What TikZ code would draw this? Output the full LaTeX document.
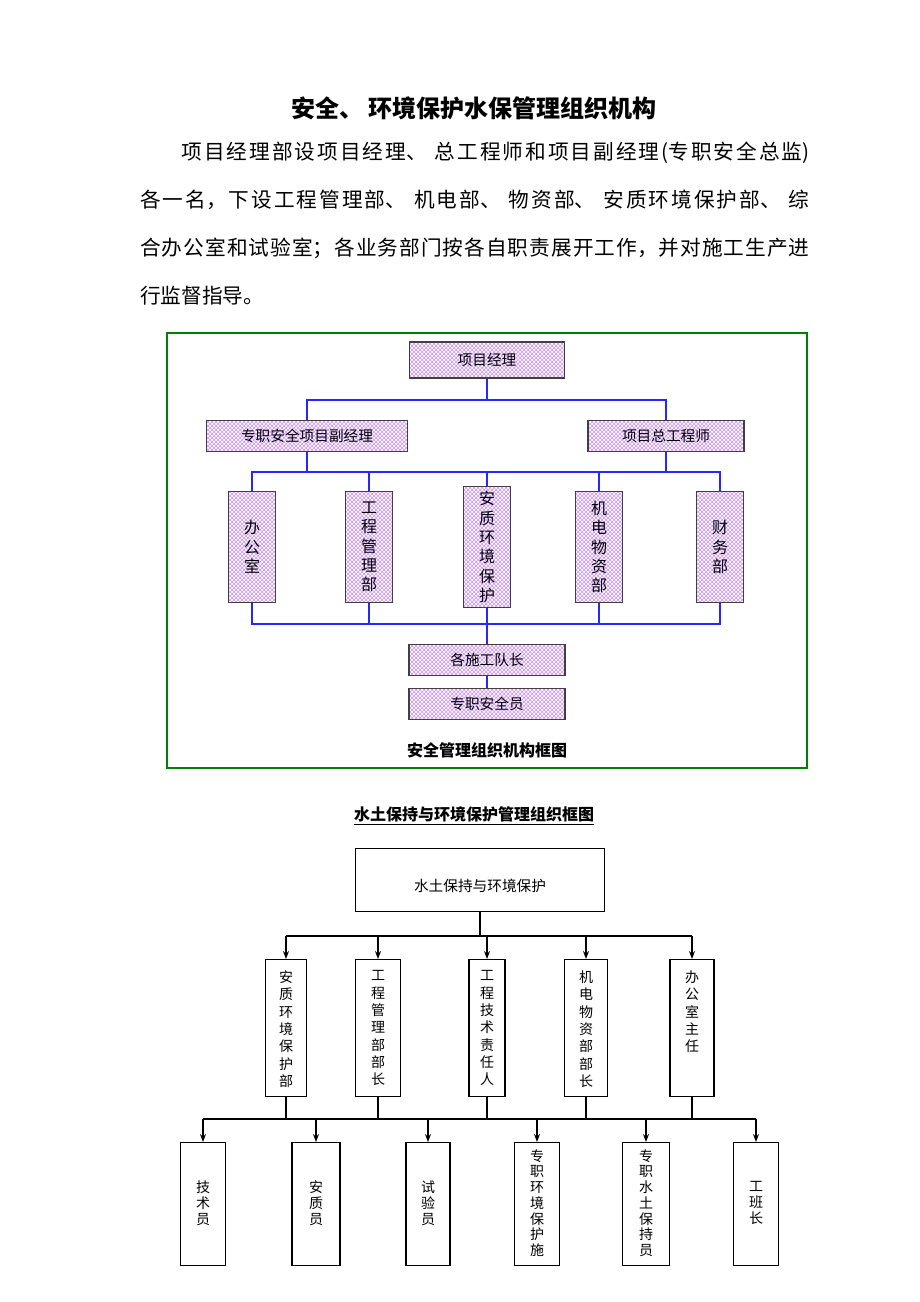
\documentclass[tikz,border=0pt]{standalone}
\usepackage{fontspec}
\setmainfont{Noto Sans CJK SC}
\usetikzlibrary{patterns,arrows.meta}
\XeTeXlinebreaklocale "zh"
\XeTeXlinebreakskip=0pt plus 1pt
\colorlet{hatch}{blue!45!magenta!45}
\tikzset{
  hbox/.style={draw=black!75,thick,pattern=crosshatch,pattern color=hatch,font=\fontsize{11}{12}\selectfont},
  vbox/.style={hbox,align=center,font=\fontsize{12}{14.5}\selectfont},
  wbox/.style={draw,thick,align=center,font=\fontsize{11}{14}\selectfont},
  vtext/.style={align=center,text width=12pt,font=\fontsize{10.5}{13}\selectfont},
  bl/.style={draw=blue!85,thick},
  ar/.style={thick,-{Stealth[length=6pt]}},
}
\begin{document}
\begin{tikzpicture}[x=0.75pt,y=-0.75pt]
\useasboundingbox (0,0) rectangle (920,1302);
% heading and text
\node (head) at (474,108) {\fontsize{18}{20}\selectfont\bfseries 安全、 环境保护水保管理组织机构};
\node (para) [anchor=north west,inner sep=0pt,text width=502pt,align=justify,
  font=\fontsize{15.5}{36}\selectfont] at (140,142)
  {\hspace*{2em}项目经理部设项目经理、 总工程师和项目副经理(专职安全总监)\linebreak
   各一名，下设工程管理部、 机电部、 物资部、 安质环境保护部、 综\linebreak
   合办公室和试验室；各业务部门按各自职责展开工作，并对施工生产进\linebreak
   行监督指导。};
% first chart
\draw[green!50!black,line width=1.5pt] (167,333) rectangle (807,768);
\node (pm) [hbox,minimum width=116pt,minimum height=27pt] at (487,360) {项目经理};
\node (vpm) [hbox,minimum width=151pt,minimum height=23pt] at (307,436) {专职安全项目副经理};
\node (ce) [hbox,minimum width=117pt,minimum height=23pt] at (666,436) {项目总工程师};
\foreach \n/\x/\t in {b1/252/办\\公\\室, b2/369/工\\程\\管\\理\\部, b3/487/安\\质\\环\\境\\保\\护,
                      b4/599/机\\电\\物\\资\\部, b5/720/财\\务\\部}
  \node (\n) [vbox,minimum width=35pt,minimum height=83pt,text width=14pt] at (\x,547) {\t};
\node (team) [hbox,minimum width=117pt,minimum height=23pt] at (487,660) {各施工队长};
\node (safe) [hbox,minimum width=117pt,minimum height=23pt] at (487,704) {专职安全员};
\node (cap1) at (487,750) {\fontsize{12}{14}\selectfont\bfseries 安全管理组织机构框图};
\draw[bl] (pm.south) -- (487,400) -| (vpm.north);
\draw[bl] (487,400) -| (ce.north);
\draw[bl] (vpm.south) -- (307,472);
\draw[bl] (ce.south) -- (666,472);
\draw[bl] (b1.north) |- (b5.north |- 0,472) -- (b5.north);
\foreach \n in {b2,b3,b4} \draw[bl] (\n.north) -- (\n.north |- 0,472);
\draw[bl] (b1.south) |- (b5.south |- 0,624) -- (b5.south);
\foreach \n in {b2,b4} \draw[bl] (\n.south) -- (\n.south |- 0,624);
\draw[bl] (b3.south) -- (team.north);
\draw[bl] (team.south) -- (safe.north);
% second chart
\node (cap2) at (474,816) {\fontsize{12}{14}\selectfont\bfseries\underline{水土保持与环境保护管理组织框图}};
\node (top) [wbox,minimum width=187pt,minimum height=47pt] at (480,880) {};
\node (topt) [font=\fontsize{11}{14}\selectfont] at (480,886) {水土保持与环境保护};
\foreach \n/\x/\w/\t in {m1/286/31/安\\质\\环\\境\\保\\护\\部, m2/378/34/工\\程\\管\\理\\部\\部\\长,
                         m3/487/27/工\\程\\技\\术\\责\\任\\人, m4/586/32/机\\电\\物\\资\\部\\部\\长,
                         m5/692/33/办\\公\\室\\主\\任}
{
  \node (\n) [wbox,anchor=north,minimum width=\w pt,minimum height=103pt] at (\x,959) {};
  \node (\n t) [vtext,anchor=north] at (\x,966) {\t};
}
\foreach \n/\x/\w/\t in {s1/203/34/技\\术\\员, s2/316/36/安\\质\\员, s3/428/33/试\\验\\员,
                         s4/537/34/专\\职\\环\\境\\保\\护\\施, s5/646/35/专\\职\\水\\土\\保\\持\\员, s6/756/34/工\\班\\长}
{
  \node (\n) [wbox,anchor=north,minimum width=\w pt,minimum height=92pt] at (\x,1142) {};
  \node (\n t) [vtext,font=\fontsize{10.5}{11.8}\selectfont] at (\x,1203) {\t};
}
\draw[thick] (top.south) -- (top.south |- 0,936);
\draw[thick] (m1.north |- 0,936) -- (m5.north |- 0,936);
\foreach \n in {m1,m2,m3,m4,m5} \draw[ar] (\n.north |- 0,936) -- (\n.north);
\foreach \n in {m1,m2,m3,m4,m5} \draw[thick] (\n.south) -- (\n.south |- 0,1119);
\draw[thick] (s1.north |- 0,1119) -- (s6.north |- 0,1119);
\foreach \n in {s1,s2,s3,s4,s5,s6} \draw[ar] (\n.north |- 0,1119) -- (\n.north);
\end{tikzpicture}
\end{document}
